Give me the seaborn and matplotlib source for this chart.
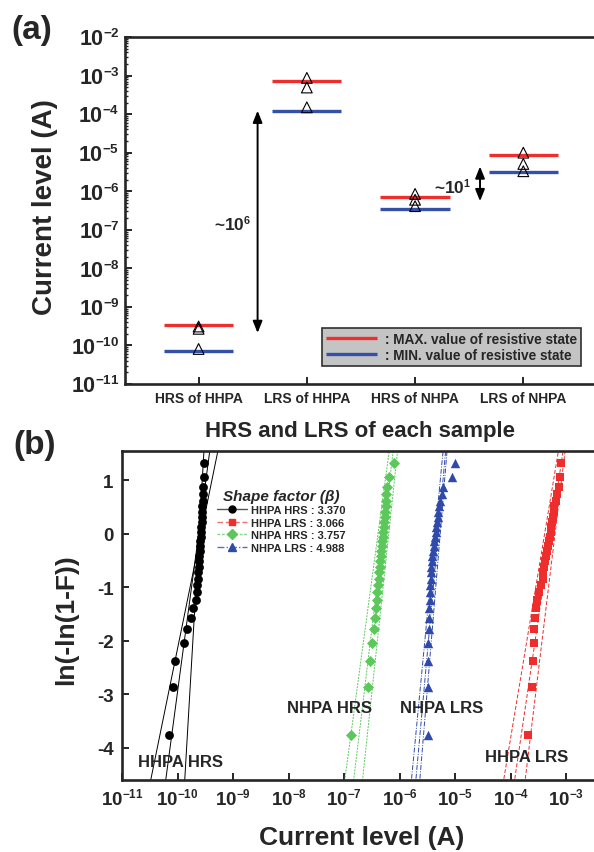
import numpy as np
import pandas as pd
import matplotlib
matplotlib.use("Agg")
import matplotlib.pyplot as plt
import seaborn as sns
from matplotlib.lines import Line2D
from matplotlib.ticker import LogLocator, NullLocator, NullFormatter, FixedLocator
try:
    import matplotlib._mathtext as _mt
    _mt.SHRINK_FACTOR = 0.62
except Exception:
    pass

# ---------------- data: panel (a) ----------------
states = ["HRS of HHPA", "LRS of HHPA", "HRS of NHPA", "LRS of NHPA"]
max_current = [3.4e-10, 7.2e-4, 7.1e-7, 8.5e-6]
min_current = [7.2e-11, 1.2e-4, 3.4e-7, 3.2e-6]
tri_state = ["HRS of HHPA"] * 3 + ["LRS of HHPA"] * 3 + ["HRS of NHPA"] * 3 + ["LRS of NHPA"] * 3
tri_current = [3.1e-10, 2.7e-10, 8.1e-11,
               8.7e-4, 4.9e-4, 1.5e-4,
               8.5e-7, 6.0e-7, 4.1e-7,
               1.0e-5, 5.1e-6, 3.3e-6]

# ---------------- data: panel (b) ----------------
weibull_y = [-3.76, -2.86, -2.38, -2.04, -1.78, -1.57, -1.39, -1.23, -1.09, -0.96,
             -0.84, -0.72, -0.61, -0.51, -0.41, -0.32, -0.23, -0.14, -0.05, 0.04,
             0.13, 0.22, 0.32, 0.41, 0.52, 0.62, 0.75, 0.88, 1.06, 1.33]
hhpa_hrs_log = [-10.16, -10.08, -10.04, -9.88, -9.83, -9.76, -9.72, -9.67, -9.65, -9.645,
                -9.635, -9.627, -9.62, -9.613, -9.606, -9.60, -9.594, -9.588, -9.583, -9.578,
                -9.573, -9.568, -9.563, -9.558, -9.553, -9.548, -9.542, -9.536, -9.528, -9.52]
hhpa_lrs_log = [-3.695, -3.623, -3.611, -3.593, -3.593, -3.564, -3.552, -3.528, -3.492, -3.456,
                -3.426, -3.414, -3.396, -3.384, -3.372, -3.348, -3.325, -3.313, -3.295, -3.283,
                -3.271, -3.265, -3.247, -3.229, -3.217, -3.193, -3.169, -3.133, -3.115, -3.098]
nhpa_hrs_log = [-6.878, -6.581, -6.538, -6.509, -6.461, -6.449, -6.437, -6.419, -6.407, -6.395,
                -6.383, -6.371, -6.359, -6.350, -6.341, -6.332, -6.323, -6.314, -6.308, -6.299,
                -6.287, -6.278, -6.269, -6.260, -6.254, -6.245, -6.240, -6.222, -6.198, -6.102]
nhpa_lrs_log = [-5.487, -5.487, -5.487, -5.487, -5.481, -5.475, -5.469, -5.463, -5.457, -5.451,
                -5.445, -5.439, -5.433, -5.427, -5.415, -5.403, -5.391, -5.379, -5.368, -5.356,
                -5.344, -5.332, -5.320, -5.308, -5.290, -5.272, -5.248, -5.224, -5.069, -5.015]
series_names = ["HHPA HRS", "HHPA LRS", "NHPA HRS", "NHPA LRS"]
shape_factor = [3.370, 3.066, 3.757, 4.988]
# fitted scale (log10 of current at y=0) for fit line and the two bound lines
fit_eta_log = [-9.62, -3.281, -6.298, -5.31]
low_beta = [2.21, 2.71, 3.34, 4.69]
low_eta_log = [-9.579, -3.393, -6.392, -5.364]
high_beta = [7.72, 3.72, 4.24, 5.45]
high_eta_log = [-9.612, -3.206, -6.199, -5.273]

# ---------------- style ----------------
sns.set_style("ticks")
plt.rcParams["font.family"] = ["Liberation Sans", "DejaVu Sans"]
plt.rcParams["font.weight"] = "bold"
plt.rcParams["axes.labelweight"] = "bold"
plt.rcParams["mathtext.fontset"] = "custom"
plt.rcParams["mathtext.rm"] = "Liberation Sans:bold"
plt.rcParams["mathtext.bf"] = "Liberation Sans:bold"
plt.rcParams["mathtext.it"] = "Liberation Sans:bold:italic"
plt.rcParams["axes.unicode_minus"] = False

RED = "#ee2d2d"
BLUE = "#3450a8"
GREEN = "#5cc85c"
TRI_BLUE = "#2f4aa8"

fig = plt.figure(figsize=(5.94, 8.53), dpi=100)
W, H = 594, 853
ax_a = fig.add_axes([125 / W, 1 - 385 / H, (598 - 125) / W, (385 - 38) / H])
ax_b = fig.add_axes([122 / W, 1 - 781 / H, (622 - 122) / W, (781 - 452) / H])

# ---------------- panel (a) ----------------
pos = {s: i for i, s in enumerate(states)}
tri_df = pd.DataFrame({"pos": [pos[s] for s in tri_state], "current": tri_current})
xpos = np.arange(len(states))
ax_a.hlines(max_current, xpos - 0.32, xpos + 0.32, color=RED, lw=2.4,
            label=": MAX. value of resistive state", zorder=2)
ax_a.hlines(min_current, xpos - 0.32, xpos + 0.32, color=BLUE, lw=2.4,
            label=": MIN. value of resistive state", zorder=2)
sns.scatterplot(data=tri_df, x="pos", y="current", marker="^", s=60, color="black",
                linewidth=0.8, ax=ax_a, legend=False, zorder=3)
coll = ax_a.collections[-1]
coll.set_facecolor("none")
coll.set_edgecolor("black")

ax_a.set_yscale("log")
ax_a.set_ylim(1e-11, 1e-2)
ax_a.set_xlim(-0.68, 3.69)
ax_a.set_xticks(xpos)
ax_a.set_xticklabels(states)
ax_a.yaxis.set_major_locator(LogLocator(base=10, numticks=20))
ax_a.yaxis.set_minor_locator(LogLocator(base=10, subs=np.arange(2, 10), numticks=20))
ax_a.yaxis.set_minor_formatter(NullFormatter())
ax_a.tick_params(axis="y", which="major", direction="in", length=5, width=1.4,
                 labelsize=15.5, pad=4)
ax_a.tick_params(axis="y", which="minor", direction="in", length=2.5, width=1.0)
ax_a.tick_params(axis="x", which="major", direction="in", length=5, width=1.4,
                 labelsize=10, pad=5)
for sp in ["left", "bottom", "top"]:
    ax_a.spines[sp].set_linewidth(1.9)
ax_a.spines["right"].set_visible(False)

ax_a.set_ylabel("Current level (A)", fontsize=20, fontweight="bold")
ax_a.yaxis.label.set_va("center")
ax_a.yaxis.set_label_coords(-0.169, 0.513)
ax_a.set_xlabel("HRS and LRS of each sample", fontsize=16, fontweight="bold")
ax_a.xaxis.label.set_va("center")
ax_a.xaxis.set_label_coords(0.497, -0.133)

arrow_kw = dict(arrowstyle="<|-|>,head_length=0.7,head_width=0.28", lw=1.4, color="black",
                shrinkA=0, shrinkB=0)
ax_a.annotate("", xy=(0.545, 1.23e-4), xytext=(0.545, 2.1e-10), arrowprops=arrow_kw)
ax_a.annotate("", xy=(2.60, 4.4e-6), xytext=(2.60, 5.5e-7), arrowprops=arrow_kw)
ax_a.text(0.31, 1.5e-7, r"~$\mathdefault{10^{6}}$", ha="center", va="center", fontsize=12.5)
ax_a.text(2.35, 1.4e-6, r"~$\mathdefault{10^{1}}$", ha="center", va="center", fontsize=12.5)

leg_a = ax_a.legend(loc="lower left", bbox_to_anchor=(0.417, 0.052), fontsize=9.8,
                    frameon=True, fancybox=False, framealpha=1, facecolor="#c4c4c4",
                    edgecolor="#303030", borderpad=0.3, labelspacing=0.15,
                    handlelength=3.7, handletextpad=0.6, borderaxespad=0)
leg_a.get_frame().set_linewidth(1.2)

# ---------------- panel (b) ----------------
logs = [hhpa_hrs_log, hhpa_lrs_log, nhpa_hrs_log, nhpa_lrs_log]
colors = ["black", RED, GREEN, TRI_BLUE]
markers = ["o", "s", "D", "^"]
sizes = [40, 36, 32, 46]
linestyles = ["-", (0, (4, 2)), (0, (2, 1.2)), (0, (5, 1.5, 1, 1.5))]
line_colors = ["black", RED, GREEN, TRI_BLUE]

rows = []
for name, lg in zip(series_names, logs):
    for yv, lv in zip(weibull_y, lg):
        rows.append({"series": name, "y": yv, "current": 10 ** lv})
df_b = pd.DataFrame(rows)

y_line = np.array([-4.9, 1.8])
for i, name in enumerate(series_names):
    for beta, eta in [(shape_factor[i], fit_eta_log[i]), (low_beta[i], low_eta_log[i]),
                      (high_beta[i], high_eta_log[i])]:
        x_line = 10 ** (eta + y_line / (beta * np.log(10)))
        ax_b.plot(x_line, y_line, color=line_colors[i], ls=linestyles[i], lw=0.7, zorder=1)
    sub = df_b[df_b["series"] == name]
    sns.scatterplot(data=sub, x="current", y="y", marker=markers[i], s=sizes[i],
                    color=colors[i], edgecolor=colors[i], linewidth=0, ax=ax_b,
                    legend=False, zorder=3)

ax_b.set_xscale("log")
ax_b.set_xlim(1e-11, 1e-2)
ax_b.set_ylim(-4.6, 1.55)
ax_b.xaxis.set_major_locator(FixedLocator([10.0 ** k for k in range(-11, -2)]))
ax_b.xaxis.set_minor_locator(NullLocator())
ax_b.set_yticks([-4, -3, -2, -1, 0, 1])
ax_b.tick_params(axis="x", which="major", direction="in", length=5, width=1.4,
                 labelsize=13.5, pad=5)
ax_b.tick_params(axis="y", which="major", direction="in", length=5, width=1.4,
                 labelsize=13.5, pad=6)
for sp in ["left", "bottom", "top"]:
    ax_b.spines[sp].set_linewidth(1.9)
ax_b.spines["right"].set_visible(False)

ax_b.set_ylabel("ln(-ln(1-F))", fontsize=19, fontweight="bold")
ax_b.yaxis.label.set_va("center")
ax_b.yaxis.set_label_coords(-0.112, 0.489)
ax_b.set_xlabel("Current level (A)", fontsize=19, fontweight="bold")
ax_b.xaxis.label.set_va("center")
ax_b.xaxis.set_label_coords(0.48, -0.173)

ax_b.text(10 ** -9.94, -4.26, "HHPA HRS", ha="center", va="center", fontsize=12)
ax_b.text(10 ** -7.27, -3.25, "NHPA HRS", ha="center", va="center", fontsize=12)
ax_b.text(10 ** -5.25, -3.25, "NHPA LRS", ha="center", va="center", fontsize=12)
ax_b.text(10 ** -3.71, -4.17, "HHPA LRS", ha="center", va="center", fontsize=12)

handles = []
legend_line_colors = ["#555555", "#f07070", "#80d880", "#5a70c0"]
for i, name in enumerate(series_names):
    handles.append(Line2D([], [], color=legend_line_colors[i], ls=linestyles[i], lw=1.0,
                          marker=markers[i], markersize=5 if i != 3 else 6,
                          markerfacecolor=colors[i], markeredgecolor=colors[i]))
labels = [f"{n} : {b:.3f}" for n, b in zip(series_names, shape_factor)]
leg_b = ax_b.legend(handles, labels, loc="upper left", bbox_to_anchor=(0.19, 0.885),
                    frameon=False, fontsize=8, title="Shape factor (β)",
                    title_fontproperties={"size": 11, "weight": "bold", "style": "italic"},
                    borderpad=0, labelspacing=0.22, handlelength=2.7, handletextpad=0.4,
                    borderaxespad=0)

fig.text(32 / W, 1 - 31 / H, "(a)", ha="center", va="center", fontsize=24, fontweight="bold")
fig.text(35 / W, 1 - 446 / H, "(b)", ha="center", va="center", fontsize=24, fontweight="bold")

fig.savefig("out.png", dpi=100)
